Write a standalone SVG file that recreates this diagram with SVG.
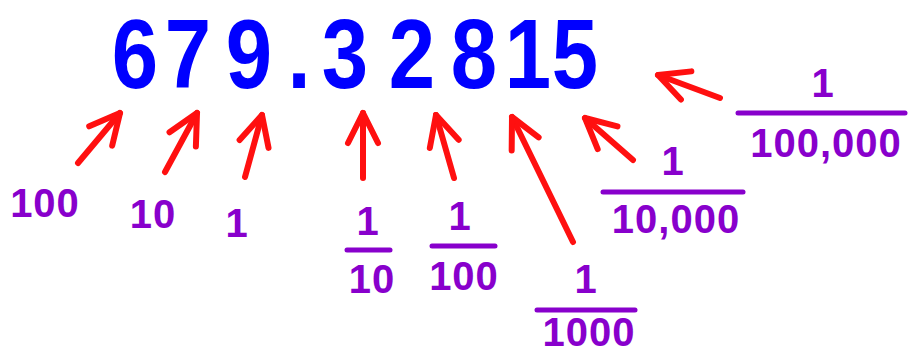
<svg xmlns="http://www.w3.org/2000/svg" width="908" height="356" viewBox="0 0 908 356">
<style>
.num{font-family:"Liberation Sans",Arial,sans-serif;font-weight:bold;font-size:98px;fill:#0000ff;text-anchor:middle}
.lab{font-family:"Liberation Sans",Arial,sans-serif;font-weight:bold;font-size:40px;fill:#8800cc;text-anchor:middle;letter-spacing:1px}
.bar{stroke:#8800cc;stroke-width:5;stroke-linecap:round}
.arr{stroke:#ff1010;stroke-width:6;stroke-linecap:round;fill:none;marker-end:url(#ah)}
</style>
<defs>
<marker id="ah" markerUnits="userSpaceOnUse" viewBox="-36 -20 40 40" refX="0" refY="0" markerWidth="40" markerHeight="40" orient="auto" overflow="visible">
<path d="M-30,-15 L0,0 L-30,15" fill="none" stroke="#ff1010" stroke-width="6" stroke-linecap="round" stroke-linejoin="round"/>
</marker>
</defs>
<rect width="908" height="356" fill="#ffffff"/>
<g id="number" transform="scale(0.85 1)">
<text class="num" x="158.8 221.2 292.9 351.8 405.9 484.7 557.6 621.2 676.5" y="88">679.32815</text>
</g>
<g id="connectors">
<path class="arr" d="M78,163 L120,113"/>
<path class="arr" d="M165,172 L197,113"/>
<path class="arr" d="M245,177 L262,115"/>
<path class="arr" d="M363,178 L363,113"/>
<path class="arr" d="M454,178 L436,115"/>
<path class="arr" d="M573,242 L512,117"/>
<path class="arr" d="M633,160 L585,118"/>
<path class="arr" d="M720,98 L658,75"/>
</g>
<g id="label-100"><text class="lab" x="45" y="217">100</text></g>
<g id="label-10"><text class="lab" x="153" y="228">10</text></g>
<g id="label-1"><text class="lab" x="237" y="237">1</text></g>
<g id="label-1-10">
<text class="lab" x="368" y="235">1</text>
<line class="bar" x1="347" y1="250" x2="390" y2="250"/>
<text class="lab" x="372" y="293">10</text>
</g>
<g id="label-1-100">
<text class="lab" x="460" y="230">1</text>
<line class="bar" x1="432" y1="246" x2="495" y2="246"/>
<text class="lab" x="464" y="290">100</text>
</g>
<g id="label-1-1000">
<text class="lab" x="586" y="293">1</text>
<line class="bar" x1="537" y1="310" x2="635" y2="310"/>
<text class="lab" x="589" y="346">1000</text>
</g>
<g id="label-1-10000">
<text class="lab" x="673" y="175">1</text>
<line class="bar" x1="603" y1="192" x2="743" y2="192"/>
<text class="lab" x="676" y="233">10,000</text>
</g>
<g id="label-1-100000">
<text class="lab" x="823" y="97">1</text>
<line class="bar" x1="738" y1="113" x2="905" y2="113"/>
<text class="lab" x="826" y="157">100,000</text>
</g>
</svg>
